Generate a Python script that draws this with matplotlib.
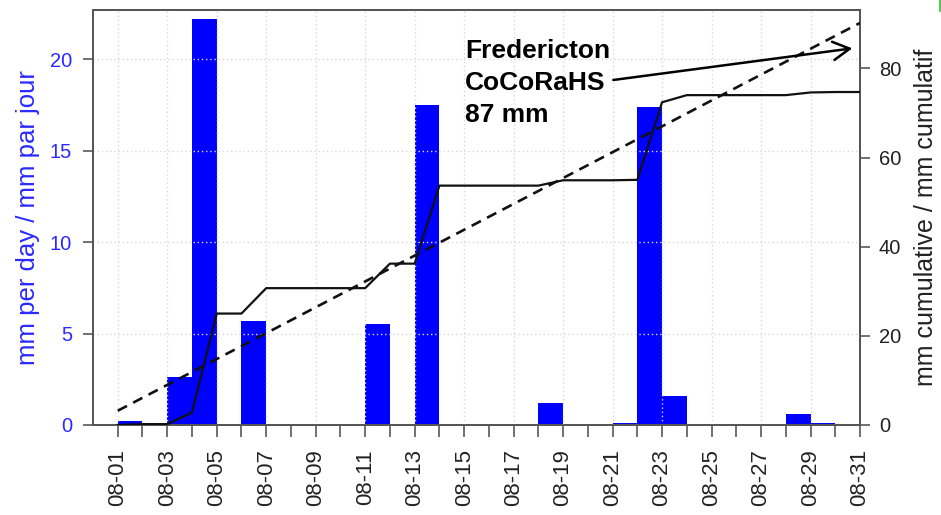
import matplotlib
matplotlib.use("Agg")
import matplotlib.pyplot as plt
import numpy as np
from matplotlib.lines import Line2D

plt.rcParams['font.family'] = ['Liberation Sans', 'DejaVu Sans']
plt.rcParams['lines.scale_dashes'] = False

# ---- data ----
days = list(range(1, 32))
tick_labels = [f"08-{d:02d}" for d in days]
daily_mm = [0, 0.2, 0, 2.6, 22.2, 0, 5.7, 0, 0, 0,
            0, 5.5, 0, 17.5, 0, 0, 0, 0, 1.2, 0,
            0, 0.1, 17.4, 1.6, 0, 0, 0, 0, 0.6, 0.1, 0]
normal_days = [1, 31]
normal_cum = [3.2, 90.2]
station_label = "Fredericton\nCoCoRaHS\n87 mm"

cum_mm = np.cumsum(daily_mm)

W, H = 941, 515
fig = plt.figure(figsize=(W / 100, H / 100), dpi=100)
L, R, T, B = 93, 860, 10, 425
ax = fig.add_axes([L / W, 1 - B / H, (R - L) / W, (B - T) / H])
ax2 = ax.twinx()

blue = '#0000ff'
lab_blue = '#2a2aff'
spine_c = '#555555'

# bars: value of day d drawn over [d-1, d]
ax.bar([d - 1 for d in days], daily_mm, width=1.0, align='edge', color=blue,
       edgecolor='none', zorder=1)
ax.set_xlim(0, 31)
ax.set_ylim(0, 22.7)
ax.set_xticks(days[::2])
ax.set_xticklabels(tick_labels[::2], rotation=90, fontsize=16, color='#222222')
ax.set_xticks(days, minor=True)
ax.set_yticks([0, 5, 10, 15, 20])
ax.tick_params(axis='x', which='both', direction='out', length=8.5, width=1.3,
               color='#666666', pad=9)
ax.tick_params(axis='y', direction='out', length=7, width=1.3, color='#666666',
               labelsize=14.5, labelcolor=lab_blue, pad=8)
ax.grid(True, which='major', linestyle=(0, (1, 2)), color='#d8d8d8', linewidth=1)
ax.set_axisbelow(False)
ax.set_ylabel("mm per day / mm par jour", fontsize=18.5, color=lab_blue, labelpad=7)

ax2.plot(days, cum_mm, color='#111111', lw=1.6, zorder=3)
ax2.plot(normal_days, normal_cum, color='#111111', lw=1.9, dashes=(7.5, 5), zorder=3)
ax2.set_ylim(0, 93.1)
ax2.set_yticks([0, 20, 40, 60, 80])
ax2.tick_params(axis='y', direction='out', length=7.5, width=1.3, color='#666666',
                labelsize=14.5, labelcolor='#222222', pad=6)
ax2.set_ylabel("mm cumulative / mm cumulatif", fontsize=18, color='#222222',
               labelpad=9)

for a in (ax, ax2):
    for s in a.spines.values():
        s.set_color(spine_c)
        s.set_linewidth(1.3)

ax2.text(15.04, 86.5, station_label, fontsize=19, fontweight='bold',
         ha='left', va='top', linespacing=1.42, color='black', zorder=5)
ax2.annotate("", xy=(30.69, 84.5), xytext=(21.03, 77.4),
             arrowprops=dict(arrowstyle='->,head_length=0.6,head_width=0.33',
                             lw=1.8, color='black', mutation_scale=20,
                             shrinkA=0, shrinkB=0), zorder=5)

fig.add_artist(Line2D([939.5 / W, 939.5 / W], [1, 1 - 11 / H], color='#33bb33',
                      lw=1.2, transform=fig.transFigure))

fig.savefig("out.png", dpi=100)
